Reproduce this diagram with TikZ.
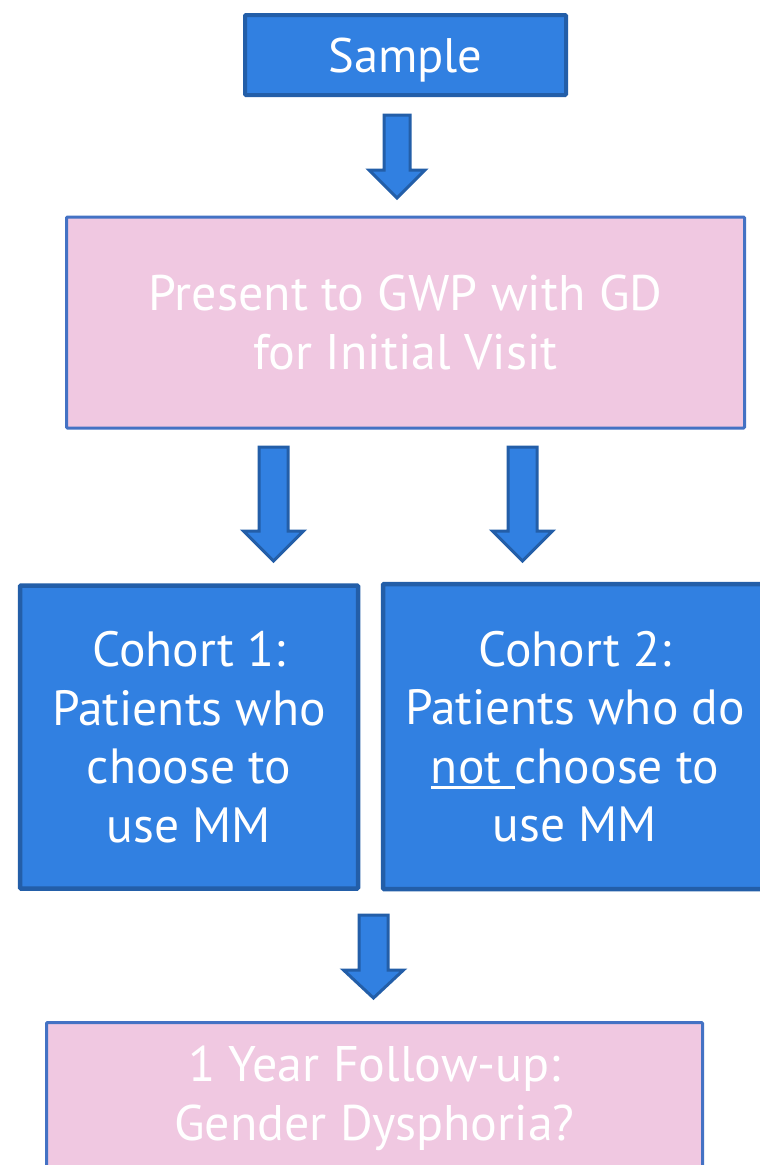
\documentclass[tikz,border=0pt]{standalone}
\usepackage{fontspec}
\setmainfont{PT Sans}
\definecolor{blueFill}{RGB}{49,128,225}
\definecolor{blueDark}{RGB}{35,94,168}
\definecolor{pinkFill}{RGB}{240,200,225}
\definecolor{pinkBorder}{RGB}{68,114,196}
\newcommand\myul[1]{\setbox0\hbox{#1}\rlap{\rule[-6pt]{\wd0}{3.2pt}}\box0}
\newcommand\barrow[6]{%
  \draw[barrowstyle] ({#1-#4},#2) -- ({#1+#4},#2) -- ({#1+#4},#6) -- ({#1+#5},#6)
    -- (#1,#3) -- ({#1-#5},#6) -- ({#1-#4},#6) -- cycle;}
\tikzset{
  bluebox/.style={draw=blueDark, fill=blueFill, line width=4.5pt, text=white,
    align=center, inner sep=0pt, rounded corners=1pt,
    font=\fontsize{49.5}{58.5}\selectfont},
  pinkbox/.style={draw=pinkBorder, fill=pinkFill, line width=3pt, text=white,
    align=center, inner sep=0pt, rounded corners=1pt,
    font=\fontsize{50}{59}\selectfont},
  barrowstyle/.style={draw=blueDark, fill=blueFill, line width=3pt, line join=miter}
}
\begin{document}
\begin{tikzpicture}[x=1pt,y=-1pt]
\clip (0,0) rectangle (760,1165);
\fill[white] (0,0) rectangle (760,1165);
% boxes
\node[bluebox, line width=4pt, minimum width=321pt, minimum height=80pt,
  text height=40pt, text depth=6pt, font=\fontsize{48.5}{58}\selectfont] (sample) at (405.5,55) {Sample};
\node[pinkbox, minimum width=678pt, minimum height=211pt] (present) at (405.5,322.5)
  {Present to GWP with GD\\for Initial Visit};
\node[bluebox, minimum width=338pt, minimum height=303pt] (c1) at (189,737)
  {Cohort 1:\\Patients who\\choose to\\use MM};
\node[bluebox, minimum width=384pt, minimum height=305pt] (c2) at (575,736.5)
  {Cohort 2:\\Patients who do\\\myul{not\ }choose to\\use MM};
\node[pinkbox, minimum width=656pt, minimum height=152pt] (follow) at (374.5,1098.5)
  {1 Year Follow-up:\\Gender Dysphoria?};
% block arrows
\barrow{397}{115}{198}{13}{28}{170}
\barrow{273.5}{447}{561}{14.5}{30}{531}
\barrow{522.5}{447}{561}{14.5}{30}{531}
\barrow{373.5}{915}{998}{14.5}{30}{970}
\end{tikzpicture}
\end{document}
